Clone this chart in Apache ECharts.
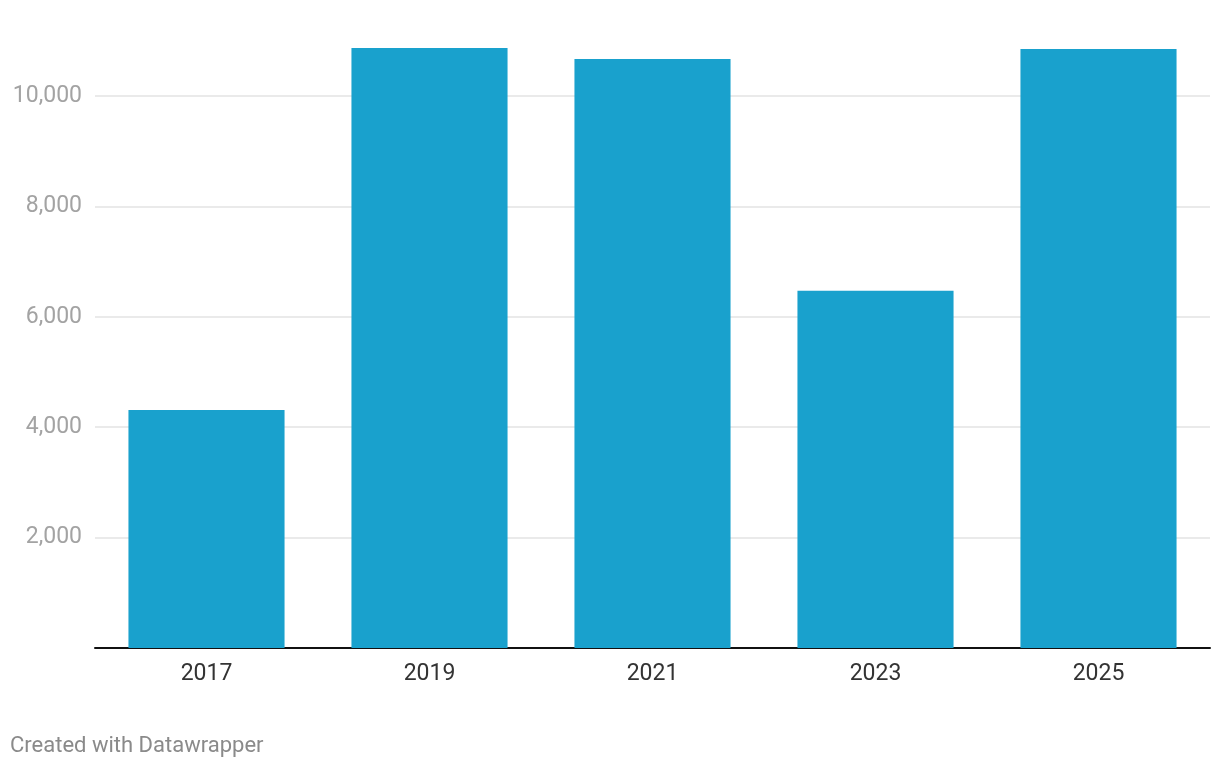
<!DOCTYPE html>
<html>
<head>
<meta charset="utf-8">
<script src="https://cdn.jsdelivr.net/npm/echarts@6/dist/echarts.min.js"></script>
<style>
html,body{margin:0;padding:0;background:#fff;}
#chart{width:1220px;height:768px;}
</style>
</head>
<body>
<div id="chart"></div>
<script>
var categories = ['2017', '2019', '2021', '2023', '2025'];
var values = [4310, 10870, 10670, 6470, 10850];
var yTicks = [0, 2000, 4000, 6000, 8000, 10000];

var chart = echarts.init(document.getElementById('chart'));
chart.setOption({
  animation: false,
  backgroundColor: '#ffffff',
  grid: { left: 95, right: 10, top: 96, bottom: 120 },
  xAxis: {
    type: 'category',
    data: categories,
    axisLine: { show: true, lineStyle: { color: '#111111', width: 2 } },
    axisTick: { show: false },
    axisLabel: { color: '#333333', fontFamily: 'Roboto', fontSize: 23, margin: 15 }
  },
  yAxis: {
    type: 'value',
    min: yTicks[0],
    max: yTicks[yTicks.length - 1],
    interval: 2000,
    axisLine: { show: false },
    axisTick: { show: false },
    splitLine: { lineStyle: { color: '#e3e3e3', width: 1.5 } },
    axisLabel: {
      color: '#a3a3a3', fontFamily: 'Roboto', fontSize: 23, margin: 13,
      formatter: function (v) { return v === 0 ? '' : v.toLocaleString('en-US'); }
    }
  },
  series: [{
    type: 'bar',
    data: values,
    barWidth: '70%',
    clip: false,
    itemStyle: { color: '#19a1cd' }
  }],
  graphic: [{
    type: 'text',
    left: 10,
    top: 735,
    style: { text: 'Created with Datawrapper', fill: '#8a8a8a', font: '22px Roboto' }
  }]
});
</script>
</body>
</html>
